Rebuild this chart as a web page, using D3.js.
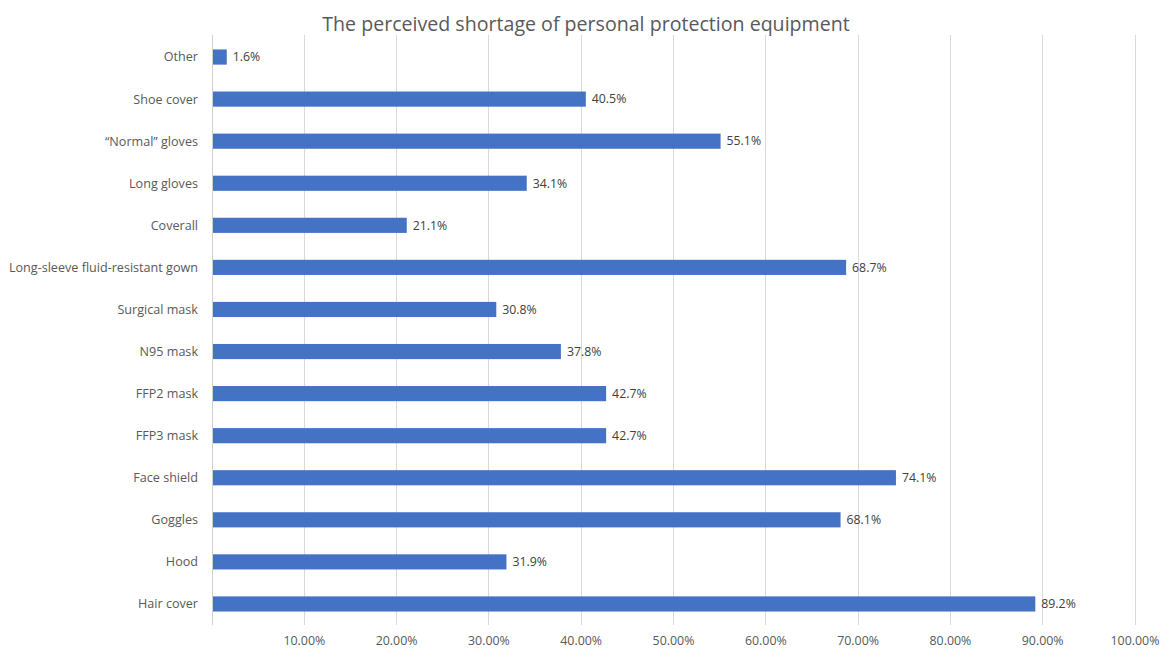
<!DOCTYPE html>
<html>
<head>
<meta charset="utf-8">
<script src="https://cdn.jsdelivr.net/npm/d3@7"></script>
<style>
  html, body { margin: 0; padding: 0; background: #fff; }
  svg { display: block; }
</style>
</head>
<body>
<svg id="chart" width="1162" height="650"></svg>
<script>
const categories = ["Other", "Shoe cover", "\u201CNormal\u201D gloves", "Long gloves", "Coverall",
  "Long-sleeve fluid-resistant gown", "Surgical mask", "N95 mask", "FFP2 mask", "FFP3 mask",
  "Face shield", "Goggles", "Hood", "Hair cover"];
const values = [1.6, 40.5, 55.1, 34.1, 21.1, 68.7, 30.8, 37.8, 42.7, 42.7, 74.1, 68.1, 31.9, 89.2];
const tickValues = [10, 20, 30, 40, 50, 60, 70, 80, 90, 100];
const title = "The perceived shortage of personal protection equipment";

const svg = d3.select("#chart");
const font = "'Open Sans', 'Noto Sans', sans-serif";
const plot = { left: 212, right: 1135, top: 36, bottom: 625 };

const x = d3.scaleLinear().domain([0, 100]).range([plot.left, plot.right]);
const y = d3.scaleBand().domain(categories).range([plot.top, plot.bottom]).paddingInner(0.64).paddingOuter(0.32);

// gridlines
svg.append("g").selectAll("line").data(tickValues).join("line")
  .attr("x1", d => x(d)).attr("x2", d => x(d))
  .attr("y1", plot.top - 1).attr("y2", plot.bottom)
  .attr("stroke", "#d9d9d9").attr("stroke-width", 1)
  .attr("shape-rendering", "crispEdges");

// bars
svg.append("g").selectAll("rect").data(categories).join("rect")
  .attr("x", x(0))
  .attr("y", (d) => y(d))
  .attr("width", (d, i) => x(values[i]) - x(0))
  .attr("height", y.bandwidth())
  .attr("fill", "#4472c4");

// axis line at 0
svg.append("line")
  .attr("x1", x(0)).attr("x2", x(0))
  .attr("y1", plot.top - 1).attr("y2", plot.bottom)
  .attr("stroke", "#d0d0d0").attr("stroke-width", 1)
  .attr("shape-rendering", "crispEdges");

// value labels
svg.append("g").selectAll("text").data(categories).join("text")
  .attr("x", (d, i) => x(values[i]) + 6)
  .attr("y", d => y(d) + y.bandwidth() / 2)
  .attr("dy", "0.35em")
  .attr("font-family", font).attr("font-size", 12.3)
  .attr("fill", "#404040")
  .text((d, i) => values[i].toFixed(1) + "%");

// category labels
svg.append("g").selectAll("text").data(categories).join("text")
  .attr("x", plot.left - 14)
  .attr("y", d => y(d) + y.bandwidth() / 2)
  .attr("dy", "0.35em")
  .attr("text-anchor", "end")
  .attr("font-family", font).attr("font-size", 12.6)
  .attr("fill", "#595959")
  .text(d => d);

// x tick labels
svg.append("g").selectAll("text").data(tickValues).join("text")
  .attr("x", d => x(d))
  .attr("y", 645)
  .attr("text-anchor", "middle")
  .attr("font-family", font).attr("font-size", 12.4)
  .attr("fill", "#595959")
  .text(d => d.toFixed(2) + "%");

// title
svg.append("text")
  .attr("x", 586).attr("y", 31)
  .attr("text-anchor", "middle")
  .attr("font-family", font).attr("font-size", 19.6)
  .attr("fill", "#595959")
  .text(title);
</script>
</body>
</html>
